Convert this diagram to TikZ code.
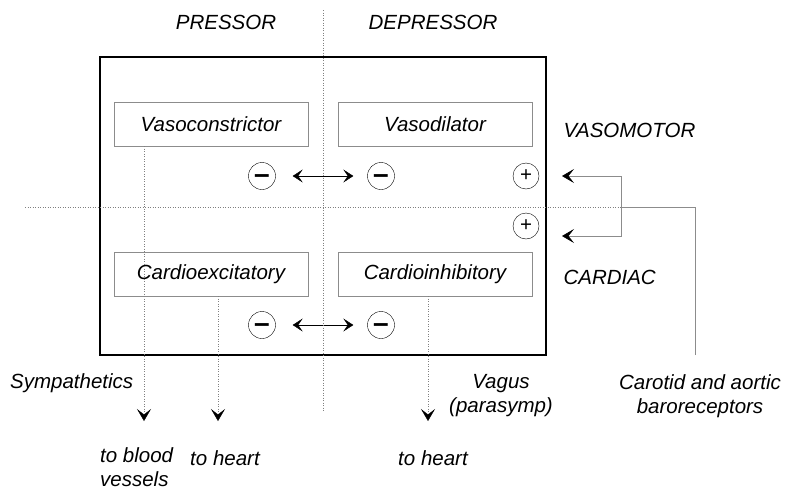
\documentclass[tikz,border=0pt]{standalone}
\usepackage{fontspec}
\setmainfont{Liberation Sans}
\usepackage{tikz}
\usetikzlibrary{arrows.meta, positioning}
\definecolor{boxgray}{rgb}{0.55, 0.55, 0.55}
\definecolor{dotgray}{rgb}{0.5, 0.5, 0.5}

\begin{document}
\begin{tikzpicture}[x=1pt, y=-1pt,
		every node/.style={font=\fontsize{20.5}{24}\selectfont\itshape},
		centre/.style={draw, line width=1.6pt, minimum width=446pt, minimum height=298pt},
		area/.style={draw=boxgray, minimum width=194pt, minimum height=44pt},
		sign/.style={circle, draw, minimum size=27pt, inner sep=0pt, font=\fontsize{20.5}{24}\selectfont},
		minus/.style={sign, font=\fontsize{28}{28}\selectfont\bfseries, text height=15.6pt, text depth=0pt},
		divider/.style={dotgray, dash pattern=on 1pt off 1.5pt},
		tip/.style={-{Stealth[length=12pt, width=14pt, inset=5.5pt, color=black]}},
		both/.style={{Stealth[length=10pt, width=13pt, inset=4.5pt]}-{Stealth[length=10pt, width=13pt, inset=4.5pt]}, shorten <=17pt, shorten >=14pt},
		feed/.style={boxgray, line width=0.6pt}]
	\useasboundingbox (0,0) rectangle (787,490);
		  % centres and their outputs
		  \node[centre] (cns) at (323,206) {};
		  \node[area] (vc) at (211,124) {Vasoconstrictor};
		  \node[area] (vd) at (435,124) {Vasodilator};
		  \node[area] (ce) at (211,274) {Cardioexcitatory};
		  \node[area] (ci) at (435,274) {Cardioinhibitory};
		  \foreach \y/\r in {176/vm, 325/cd}{
		    \node[minus] (\r-p) at (262,\y) {--};
		    \node[minus] (\r-d) at (381,\y) {--};
		    \draw[both] (\r-p) -- (\r-d);
		    }
		  \node[sign, minimum size=26pt] (vm-in) at (526,176) {+};
		  \node[sign, minimum size=26pt] (cd-in) at (526,226) {+};
		  % headings
		  \node (pr) at (226,22) {PRESSOR};
		  \node (dp) at (433,22) {DEPRESSOR};
		  \node[anchor=west] (vmo) at (560,130) {VASOMOTOR};
		  \node[anchor=west] (car) at (560,277) {CARDIAC};
		  % dividers
		  \coordinate (top) at (323,10);
		  \coordinate (bot) at (323,412);
		  \coordinate (lft) at (25,207);
		  \coordinate (fork) at (621,207);
		  \draw[divider] (top) -- (bot);
		  \draw[divider] (lft) -- (fork);
		  % efferents
		  \coordinate (bv) at (144,421);
		  \coordinate (h1) at (218,421);
		  \coordinate (h2) at (428,421);
		  \draw[divider, tip] (vc.south -| bv) -- (bv);
		  \draw[divider, tip] (ce.south -| h1) -- (h1);
		  \draw[divider, tip] (ci.south -| h2) -- (h2);
		  \node[anchor=north west, align=left, inner sep=0pt] (tbv) at (100,447) {to blood\\vessels};
		  \node (th1) at (225,458) {to heart};
		  \node (th2) at (433,458) {to heart};
		  \node[anchor=west, inner sep=0pt] (sym) at (10,383) {Sympathetics};
		  \node[align=center] (vag) at (501,396) {Vagus\\(parasymp)};
		  % baroreceptor input
		  \node[align=center] (bar) at (700,396) {Carotid and aortic\\baroreceptors};
		  \coordinate (baro) at (695,355);
		  \coordinate (vmt) at (562,176);
		  \coordinate (cdt) at (562,236);
		  \draw[feed] (baro) |- (fork);
		  \draw[feed, tip] (fork) |- (vmt);
		  \draw[feed, tip] (fork) |- (cdt);
\end{tikzpicture}
\end{document}
